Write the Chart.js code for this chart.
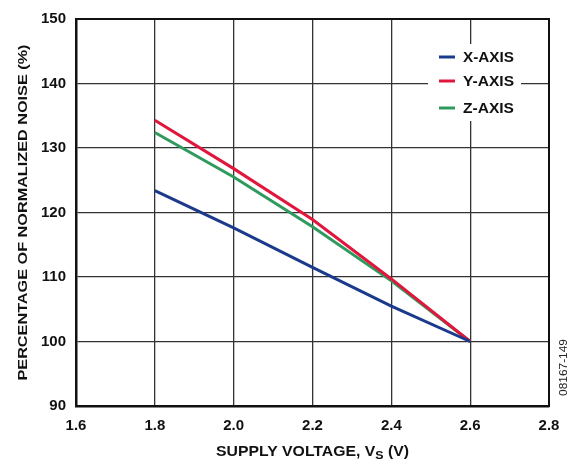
<!DOCTYPE html>
<html>
<head>
<meta charset="utf-8">
<script src="https://cdn.jsdelivr.net/npm/chart.js@4/dist/chart.umd.min.js"></script>
<style>
    html, body { margin: 0; padding: 0; background: #fff; }
    #wrap { width: 571px; height: 462px; }
</style>
</head>
<body>
<div id="wrap"><canvas id="noiseChart" width="571" height="462"></canvas></div>
<script>
const supplyVoltage = [1.8, 2.0, 2.2, 2.4, 2.6];
const xAxisNoise = [123.4, 117.6, 111.5, 105.5, 100];
const yAxisNoise = [134.3, 126.8, 118.9, 109.7, 100];
const zAxisNoise = [132.4, 125.5, 117.8, 109.4, 100];
const seriesNames = ["X-AXIS", "Y-AXIS", "Z-AXIS"];
const seriesColors = ["#1b3a8c", "#e0163c", "#2f9a5e"];

const FONT = "'Liberation Sans', Arial, sans-serif";

function toPoints(values) {
    return supplyVoltage.map((v, i) => ({ x: v, y: values[i] }));
}

// the original uses a wider bold face, so stretch text to its measured width
function fitText(ctx, text, x, y, width) {
    const w = ctx.measureText(text).width;
    ctx.save();
    ctx.translate(x, y);
    ctx.scale(width / w, 1);
    ctx.textAlign = "left";
    ctx.fillText(text, 0, 0);
    ctx.restore();
}

// legend drawn inside the plot, with a white box that cuts the grid
const insideLegend = {
    id: "insideLegend",
    afterDraw(chart) {
        const ctx = chart.ctx;
        ctx.save();
        ctx.fillStyle = "#fff";
        ctx.fillRect(428, 44, 93, 77);
        const rows = [57, 81, 108];
        ctx.font = "bold 15px " + FONT;
        ctx.textBaseline = "middle";
        chart.data.datasets.forEach((ds, i) => {
            ctx.strokeStyle = ds.borderColor;
            ctx.lineWidth = 3;
            ctx.beginPath();
            ctx.moveTo(439, rows[i]);
            ctx.lineTo(455, rows[i]);
            ctx.stroke();
            ctx.fillStyle = "#111";
            fitText(ctx, ds.label, 463, rows[i] + 1, 51);
        });
        ctx.restore();
    }
};

// axis titles (x title needs a subscript) and the figure id
const axisTitles = {
    id: "axisTitles",
    afterDraw(chart) {
        const ctx = chart.ctx;
        const area = chart.chartArea;
        ctx.save();
        ctx.fillStyle = "#111";
        ctx.textBaseline = "alphabetic";

        const big = "bold 14px " + FONT;
        const small = "bold 11px " + FONT;
        const parts = [["SUPPLY VOLTAGE, V", big, 0], ["S", small, 3], [" (V)", big, 0]];
        let total = 0;
        parts.forEach(p => { ctx.font = p[1]; total += ctx.measureText(p[0]).width; });
        const stretch = 193 / total;
        ctx.translate((area.left + area.right) / 2 - 193 / 2, 456);
        ctx.scale(stretch, 1);
        let x = 0;
        parts.forEach(p => {
            ctx.font = p[1];
            ctx.textAlign = "left";
            ctx.fillText(p[0], x, p[2]);
            x += ctx.measureText(p[0]).width;
        });
        ctx.restore();

        ctx.save();
        ctx.fillStyle = "#111";
        ctx.translate(27, (area.top + area.bottom) / 2);
        ctx.rotate(-Math.PI / 2);
        ctx.font = "bold 13.5px " + FONT;
        fitText(ctx, "PERCENTAGE OF NORMALIZED NOISE (%)", -168, 0, 336);
        ctx.restore();

        ctx.save();
        ctx.translate(567, 368);
        ctx.rotate(-Math.PI / 2);
        ctx.font = "10.5px " + FONT;
        ctx.fillStyle = "#222";
        fitText(ctx, "08167-149", -28, 0, 57);
        ctx.restore();
    }
};

new Chart(document.getElementById("noiseChart"), {
    type: "scatter",
    data: {
        datasets: [
            { label: seriesNames[0], data: toPoints(xAxisNoise), borderColor: seriesColors[0] },
            { label: seriesNames[1], data: toPoints(yAxisNoise), borderColor: seriesColors[1] },
            { label: seriesNames[2], data: toPoints(zAxisNoise), borderColor: seriesColors[2] },
        ].map(ds => Object.assign(ds, {
            showLine: true,
            borderWidth: 3,
            pointRadius: 0,
            tension: 0,
            fill: false,
        })),
    },
    options: {
        responsive: false,
        animation: false,
        layout: { padding: { top: 16, right: 22, left: 0, bottom: 0 } },
        plugins: {
            legend: { display: false },
            tooltip: { enabled: false },
        },
        scales: {
            x: {
                type: "linear",
                min: 1.6,
                max: 2.8,
                ticks: {
                    stepSize: 0.2,
                    padding: 11,
                    color: "#111",
                    font: { family: FONT, size: 15, weight: "bold" },
                    callback: (v) => v.toFixed(1),
                },
                grid: { color: "#333", lineWidth: 1.3, drawTicks: false },
                border: { color: "#111", width: 2.5 },
                afterFit(scale) { scale.height = 56; },
            },
            y: {
                min: 90,
                max: 150,
                ticks: {
                    stepSize: 10,
                    padding: 10,
                    color: "#111",
                    font: { family: FONT, size: 15, weight: "bold" },
                },
                grid: { color: "#333", lineWidth: 1.3, drawTicks: false },
                border: { color: "#111", width: 2.5 },
                afterFit(scale) { scale.width = 76; },
            },
        },
    },
    plugins: [insideLegend, axisTitles,
        {
            id: "frame",
            afterDatasetsDraw(chart) {
                const { ctx, chartArea: a } = chart;
                ctx.save();
                ctx.strokeStyle = "#111";
                ctx.lineWidth = 2;
                ctx.strokeRect(a.left, a.top, a.right - a.left, a.bottom - a.top);
                ctx.restore();
            }
        }],
});
</script>
</body>
</html>
